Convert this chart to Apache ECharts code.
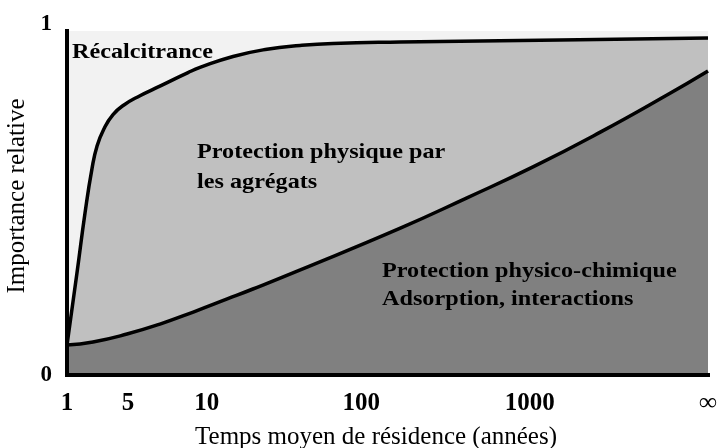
<!DOCTYPE html>
<html>
<head>
<meta charset="utf-8">
<script src="https://cdn.jsdelivr.net/npm/echarts@6/dist/echarts.min.js"></script>
<style>
  html, body { margin: 0; padding: 0; background: #fff; }
  #chart { width: 720px; height: 448px; }
</style>
</head>
<body>
<div id="chart"></div>
<script>
// x is a stretched residence-time axis: 0 = 1 year ... 100 = infinity
var tickPos = [0, 9.5, 21.8, 45.9, 72.2, 100]
var tickLabels = ['1', '5', '10', '100', '1000', '∞']
var yTicks = [0, 1]

// upper curve: recalcitrance / physical protection boundary
var upperX = [0, 1.56, 2.81, 3.9, 4.68, 5.77, 7.18, 8.89, 11.39, 13.73, 18.88, 20.75, 25.9, 31.2, 36.35, 41.5, 51.95, 76.9, 100]
var upperY = [0.087, 0.297, 0.471, 0.6, 0.665, 0.716, 0.757, 0.785, 0.812, 0.833, 0.879, 0.894, 0.926, 0.947, 0.958, 0.964, 0.968, 0.974, 0.98]

// lower curve: physical / physico-chemical protection boundary
var lowerX = [0, 4.06, 9.36, 14.5, 19.7, 25, 29, 36.3, 52, 62.4, 72.7, 83.2, 93.6, 100]
var lowerY = [0.087, 0.096, 0.119, 0.148, 0.183, 0.221, 0.25, 0.305, 0.427, 0.515, 0.605, 0.706, 0.814, 0.884]

var serif = 'Liberation Serif'

function pairs (xs, ys) {
  return xs.map(function (x, i) { return [x, ys[i]] })
}

function tickLabel (v) {
  var best = 0
  tickPos.forEach(function (p, i) {
    if (Math.abs(p - v) < Math.abs(tickPos[best] - v)) best = i
  })
  return tickLabels[best]
}

var border = { show: true, lineStyle: { color: '#000', width: 4, cap: 'square' } }
var labelFont = 'bold 22px "Liberation Serif"'

var chart = echarts.init(document.getElementById('chart'))
chart.setOption({
  animation: false,
  grid: {
    left: 67,
    right: 12,
    top: 31,
    bottom: 73,
    outerBoundsMode: 'none',
    show: true,
    backgroundColor: '#f2f2f2',
    borderWidth: 0
  },
  xAxis: [{
    type: 'value',
    min: 0,
    max: 100,
    z: 10,
    axisLine: border,
    axisTick: { show: false },
    splitLine: { show: false },
    axisLabel: {
      customValues: tickPos,
      formatter: tickLabel,
      margin: 16,
      fontFamily: serif,
      fontWeight: 'bold',
      fontSize: 25,
      color: '#000'
    },
    name: 'Temps moyen de résidence (années)',
    nameLocation: 'middle',
    nameGap: 50,
    nameTextStyle: {
      fontFamily: serif,
      fontSize: 25,
      color: '#000',
      padding: [0, 23, 0, 0]
    }
  }, {
    type: 'value',
    position: 'top',
    min: 0,
    max: 100,
    z: 10,
    axisLine: border,
    axisTick: { show: false },
    axisLabel: { show: false },
    splitLine: { show: false }
  }],
  yAxis: [{
    type: 'value',
    min: 0,
    max: 1,
    z: 10,
    axisLine: border,
    axisTick: { show: false },
    splitLine: { show: false },
    axisLabel: {
      customValues: yTicks,
      formatter: function (v) {
        return v === 1 ? '{up|1}' : '{n|0}'
      },
      margin: 15,
      rich: {
        up: { fontFamily: serif, fontWeight: 'bold', fontSize: 23, color: '#000', padding: [0, 0, 14, 0] },
        n: { fontFamily: serif, fontWeight: 'bold', fontSize: 23, color: '#000' }
      }
    },
    name: 'Importance relative',
    nameLocation: 'middle',
    nameGap: 18,
    nameTextStyle: {
      fontFamily: serif,
      fontSize: 25,
      color: '#000',
      padding: [0, 0, 0, 14]
    }
  }, {
    type: 'value',
    position: 'right',
    min: 0,
    max: 1,
    z: 10,
    axisLine: border,
    axisTick: { show: false },
    axisLabel: { show: false },
    splitLine: { show: false }
  }],
  graphic: [
    { type: 'text', x: 72, y: 52, scaleX: 1.1, z: 20, style: { text: 'Récalcitrance', fill: '#000', font: labelFont, verticalAlign: 'middle' } },
    { type: 'text', x: 197, y: 152, scaleX: 1.1, z: 20, style: { text: 'Protection physique par', fill: '#000', font: labelFont, verticalAlign: 'middle' } },
    { type: 'text', x: 197, y: 182, scaleX: 1.1, z: 20, style: { text: 'les agrégats', fill: '#000', font: labelFont, verticalAlign: 'middle' } },
    { type: 'text', x: 382, y: 271, scaleX: 1.1, z: 20, style: { text: 'Protection physico-chimique', fill: '#000', font: labelFont, verticalAlign: 'middle' } },
    { type: 'text', x: 382, y: 299, scaleX: 1.1, z: 20, style: { text: 'Adsorption, interactions', fill: '#000', font: labelFont, verticalAlign: 'middle' } }
  ],
  series: [{
    type: 'line',
    data: pairs(upperX, upperY),
    smooth: 0.5,
    symbol: 'none',
    lineStyle: { color: '#000', width: 3.5 },
    areaStyle: { color: '#c0c0c0', opacity: 1 },
    z: 2
  }, {
    type: 'line',
    data: pairs(lowerX, lowerY),
    smooth: 0.5,
    symbol: 'none',
    lineStyle: { color: '#000', width: 3.5 },
    areaStyle: { color: '#808080', opacity: 1 },
    z: 3
  }]
})
</script>
</body>
</html>
